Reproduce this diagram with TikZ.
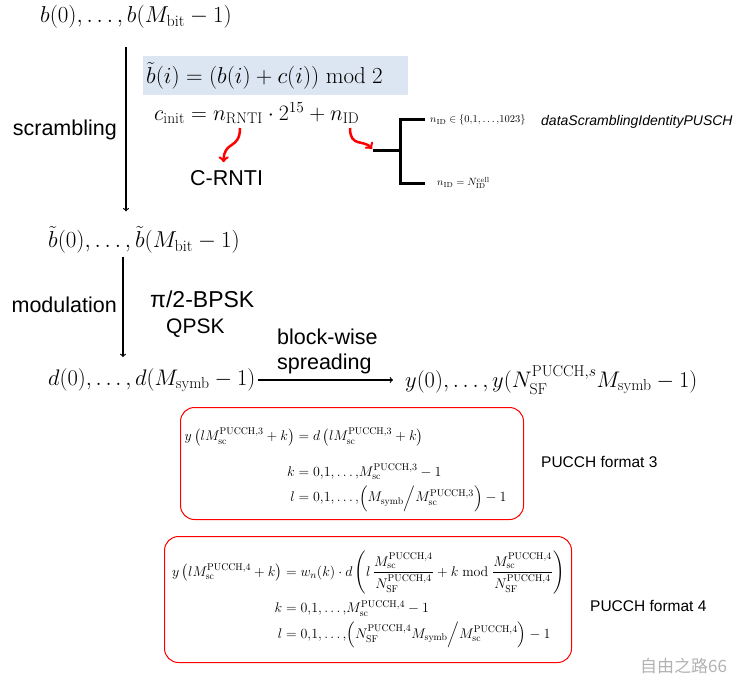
\RequirePackage{fix-cm}
\documentclass[tikz,border=0pt]{standalone}
\usepackage{amsmath}
\usepackage{fontspec}
\setsansfont{Liberation Sans}
\newfontfamily\cjkfont{Noto Sans CJK SC}
\usetikzlibrary{shapes,arrows,positioning}
\definecolor{hlblue}{RGB}{220,230,242}

\begin{document}
\begin{tikzpicture}[x=1pt,y=-1pt,
    seq/.style={inner sep=0pt,font=\fontsize{23}{28}\selectfont},
    lbl/.style={inner sep=0pt,font=\sffamily\fontsize{21.5}{25}\selectfont},
    fmtbox/.style={rectangle,draw=red,line width=1pt,rounded corners=14pt,inner sep=0pt,align=left,font=\fontsize{14}{17}\selectfont},
    small/.style={inner sep=0pt,font=\fontsize{10.5}{13}\selectfont},
    arrow/.style={->,line width=1.2pt},
    redarrow/.style={->,red,line width=2.5pt},
    fork/.style={line width=3pt}]
    \useasboundingbox (0,0) rectangle (755,698);
    % sequences
    \node[seq,anchor=west] (b) at (40,17) {$b(0),\ldots,b(M_{\text{bit}}-1)$};
    \node[seq,anchor=west] (bt) at (48,240) {$\tilde{b}(0),\ldots,\tilde{b}(M_{\text{bit}}-1)$};
    \node[seq,anchor=west,font=\fontsize{22.5}{27}\selectfont] (d) at (48,380) {$d(0),\ldots,d(M_{\text{symb}}-1)$};
    \node[seq,anchor=west,font=\fontsize{22.5}{27}\selectfont] (y) at (405,380) {$y(0),\ldots,y(N_{\text{SF}}^{\text{PUCCH},s}M_{\text{symb}}-1)$};
    \coordinate (scrx) at (126,0);
    \coordinate (modx) at (123,0);
    \draw[arrow,shorten <=18pt,shorten >=15pt] (b.south -| scrx) -- (bt.north -| scrx);
    \draw[arrow,shorten <=3pt,shorten >=11pt] (bt.south -| modx) -- (d.north -| modx);
    \draw[arrow,shorten <=2pt,shorten >=12pt] (d.east) -- (d.east -| y.west);
    \node[lbl,anchor=east] (scr) at (117,130) {scrambling};
    \node[lbl,anchor=east] (mod) at (117,305) {modulation};
    \node[lbl,anchor=west,font=\sffamily\fontsize{23}{27}\selectfont] (bpsk) at (150,299) {π/2-BPSK};
    \node[lbl,anchor=west,font=\sffamily\fontsize{21}{25}\selectfont] (qpsk) at (166,328) {QPSK};
    \node[lbl,anchor=south west,align=left] (spread) at (277,374) {block-wise\\spreading};
    % scrambling formula
    \node[anchor=west,fill=hlblue,minimum width=265pt,minimum height=39pt,text width=259pt,inner xsep=3pt,align=left,font=\fontsize{23}{27}\selectfont] (scrfml) at (143,75.5) {$\tilde{b}(i)=(b(i)+c(i))\bmod 2$};
    \node[seq,anchor=west,font=\fontsize{22}{26}\selectfont] (cinit) at (154,113) {$c_{\text{init}}=n_{\text{RNTI}}\cdot 2^{15}+n_{\text{ID}}$};
    \node[lbl,anchor=west] (crnti) at (190,178) {C-RNTI};
    \coordinate (rntiout) at (240,128);
    \coordinate (idout) at (350,128);
    \coordinate (forkin) at (373,151);
    \coordinate (forkmid) at (400,151);
    \draw[redarrow] (rntiout) .. controls +(0,22) and +(0,-22) .. ([xshift=-3pt,yshift=8pt]crnti.north);
    \draw[redarrow] (idout) .. controls +(0,20) and +(-8,-10) .. ([shift={(-1pt,2pt)}]forkin);
    \node[small,anchor=west] (nid1) at (430,120) {$n_{\text{ID}}\in\{0{,}1{,}\ldots{,}1023\}$};
    \node[small,anchor=west] (nid2) at (437,183) {$n_{\text{ID}}=N_{\text{ID}}^{\text{cell}}$};
    \node[anchor=west,inner sep=0pt,font=\sffamily\itshape\fontsize{14}{17}\selectfont] (ident) at (541,122) {dataScramblingIdentityPUSCH};
    \draw[fork] (forkin) -- (forkmid);
    \draw[fork] ([xshift=-5pt]nid1.west) -| (forkmid) |- ([xshift=-12pt]nid2.west);
    % PUCCH formats
    \node[fmtbox,anchor=north west,minimum width=343pt,minimum height=112pt,text width=335pt] (fmt3) at (180,407) {$\begin{aligned}
        \rule{0pt}{25pt}y\left(lM_{\text{sc}}^{\text{PUCCH},3}+k\right) &= d\left(lM_{\text{sc}}^{\text{PUCCH},3}+k\right)\\[14pt]
        k &= 0{,}1{,}\ldots{,}M_{\text{sc}}^{\text{PUCCH},3}-1\\
        l &= 0{,}1{,}\ldots{,}\Bigl(M_{\text{symb}}\Big/M_{\text{sc}}^{\text{PUCCH},3}\Bigr)-1
      \end{aligned}$};
    \node[fmtbox,anchor=north west,minimum width=407pt,minimum height=126pt,text width=392pt] (fmt4) at (164,536) {$\begin{aligned}
        y\left(lM_{\text{sc}}^{\text{PUCCH},4}+k\right) &= w_n(k)\cdot d\left(l\,\frac{M_{\text{sc}}^{\text{PUCCH},4}}{N_{\text{SF}}^{\text{PUCCH},4}}+k\bmod\frac{M_{\text{sc}}^{\text{PUCCH},4}}{N_{\text{SF}}^{\text{PUCCH},4}}\right)\\[2pt]
        k &= 0{,}1{,}\ldots{,}M_{\text{sc}}^{\text{PUCCH},4}-1\\
        l &= 0{,}1{,}\ldots{,}\Bigl(N_{\text{SF}}^{\text{PUCCH},4}M_{\text{symb}}\Big/M_{\text{sc}}^{\text{PUCCH},4}\Bigr)-1
      \end{aligned}$};
    \node[anchor=west,inner sep=0pt,font=\sffamily\fontsize{15.5}{18}\selectfont] (lab3) at (541,462) {PUCCH format 3};
    \node[anchor=west,inner sep=0pt,font=\sffamily\fontsize{15.5}{18}\selectfont] (lab4) at (590,606) {PUCCH format 4};
    \node[anchor=west,inner sep=0pt,text=gray!60,font=\cjkfont\fontsize{17}{20}\selectfont] (wm) at (640,666) {自由之路66};
\end{tikzpicture}
\end{document}
